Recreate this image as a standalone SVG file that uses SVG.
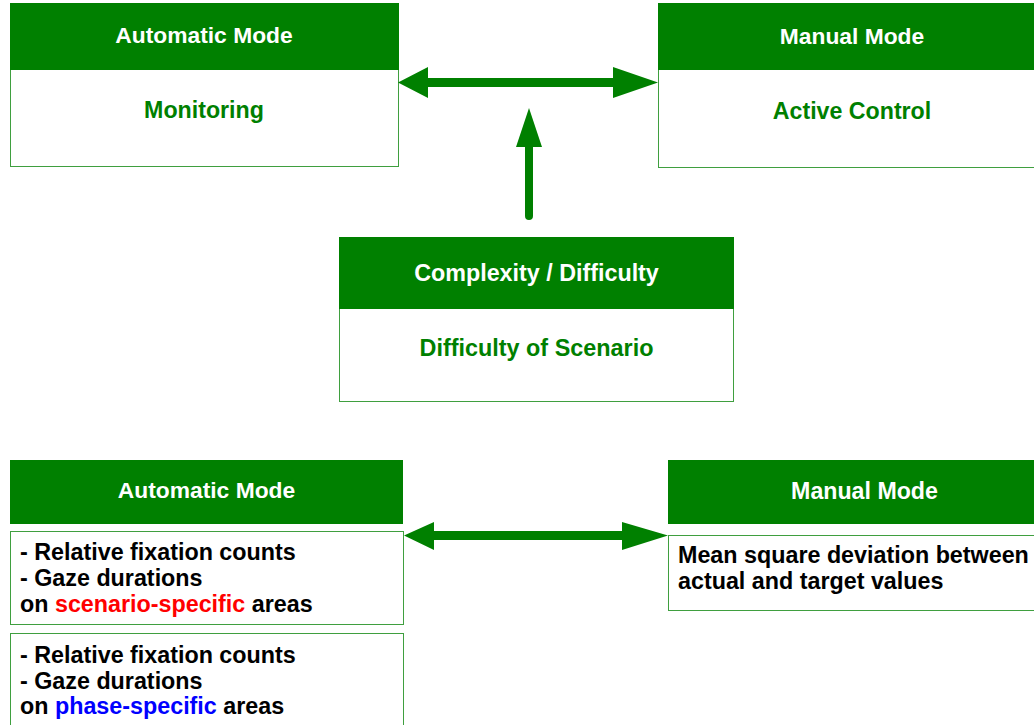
<svg xmlns="http://www.w3.org/2000/svg" width="1034" height="725" viewBox="0 0 1034 725">
<style>
.box{fill:#ffffff;stroke:#3f9f3f;stroke-width:1}
.hdr{fill:#008000}
.ht{font-family:"Liberation Sans",Arial,sans-serif;font-weight:bold;font-size:22.8px;fill:#ffffff;text-anchor:middle}
.gt{font-family:"Liberation Sans",Arial,sans-serif;font-weight:bold;font-size:23.2px;fill:#008000;text-anchor:middle}
.bt{font-family:"Liberation Sans",Arial,sans-serif;font-weight:bold;font-size:23.3px;fill:#000000}
.arr{fill:#008000}
</style>
<rect width="1034" height="725" fill="#ffffff"/>
<g id="auto-top">
<rect class="box" x="10.5" y="3.5" width="388" height="163"/>
<rect class="hdr" x="10" y="3" width="389" height="67"/>
<text class="ht" x="204" y="43">Automatic Mode</text>
<text class="gt" x="204" y="118">Monitoring</text>
</g>
<g id="manual-top">
<rect class="box" x="658.5" y="3.5" width="400" height="164"/>
<rect class="hdr" x="658" y="3" width="401" height="67"/>
<text class="ht" x="852" y="44">Manual Mode</text>
<text class="gt" x="852" y="119">Active Control</text>
</g>
<g id="complexity">
<rect class="box" x="339.5" y="237.5" width="394" height="164"/>
<rect class="hdr" x="339" y="237" width="395" height="72"/>
<text class="ht" x="536.5" y="281" style="font-size:23.3px">Complexity / Difficulty</text>
<text class="gt" x="536.5" y="356" style="font-size:23.4px">Difficulty of Scenario</text>
</g>
<g id="auto-bottom">
<rect class="hdr" x="10" y="460" width="393" height="64"/>
<text class="ht" x="206.5" y="498">Automatic Mode</text>
<rect class="box" x="10.5" y="531.5" width="393" height="93"/>
<text class="bt" x="20" y="560">- Relative fixation counts</text>
<text class="bt" x="20" y="586">- Gaze durations</text>
<text class="bt" x="20" y="612">on <tspan fill="#ff0000">scenario-specific</tspan> areas</text>
<rect class="box" x="10.5" y="633.5" width="393" height="100"/>
<text class="bt" x="20" y="663">- Relative fixation counts</text>
<text class="bt" x="20" y="689">- Gaze durations</text>
<text class="bt" x="20" y="714">on <tspan fill="#0000ff">phase-specific</tspan> areas</text>
</g>
<g id="manual-bottom">
<rect class="hdr" x="668" y="460" width="400" height="64"/>
<text class="ht" x="864.5" y="499" style="font-size:23.2px">Manual Mode</text>
<rect class="box" x="668.5" y="535.5" width="400" height="75"/>
<text class="bt" x="678" y="563">Mean square deviation between</text>
<text class="bt" x="678" y="589">actual and target values</text>
</g>
<g id="connectors">
<path class="arr" d="M398,82.5 L428,67 L428,78 L613,78 L613,67 L658,82.5 L613,98 L613,87 L428,87 L428,98 Z"/>
<path class="arr" d="M529,108 L542,147 L533,147 L533,216 A4,4 0 0 1 525,216 L525,147 L516,147 Z"/>
<path class="arr" d="M404,535.5 L434,522 L434,531 L622,531 L622,522 L668,535.5 L622,550 L622,540 L434,540 L434,550 Z"/>
</g>
</svg>
